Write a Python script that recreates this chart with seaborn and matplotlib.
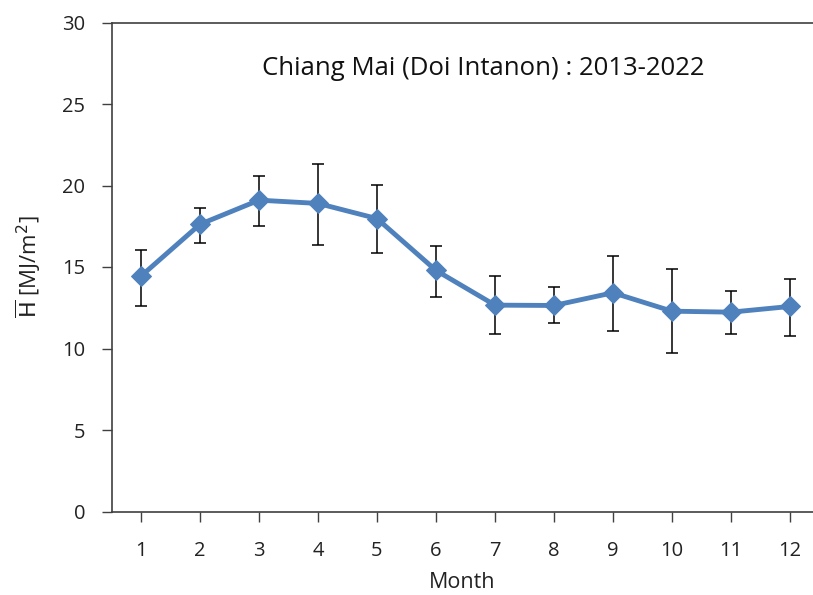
import matplotlib
matplotlib.use("Agg")
import matplotlib.pyplot as plt
import seaborn as sns
import pandas as pd
import numpy as np

months = [1, 2, 3, 4, 5, 6, 7, 8, 9, 10, 11, 12]
h_mean = [14.44, 17.62, 19.10, 18.90, 17.97, 14.79, 12.66, 12.64, 13.42, 12.29, 12.23, 12.58]
err_upper = [16.07, 18.60, 20.57, 21.30, 20.05, 16.30, 14.44, 13.75, 15.65, 14.87, 13.54, 14.28]
err_lower = [12.58, 16.45, 17.50, 16.37, 15.88, 13.15, 10.92, 11.54, 11.06, 9.71, 10.92, 10.76]
title = "Chiang Mai (Doi Intanon) : 2013-2022"

df = pd.DataFrame({"Month": months, "H": h_mean, "hi": err_upper, "lo": err_lower})

sns.set_theme(style="white")
plt.rcParams["font.family"] = ["Open Sans", "DejaVu Sans"]

fig = plt.figure(figsize=(8.13, 5.95), dpi=100)
ax = fig.add_axes([111.5 / 813, 1 - 511.5 / 595, 1 - 111.5 / 813, (511.5 - 22.5) / 595])

color = "#4F81BD"
yerr = np.array([df["H"] - df["lo"], df["hi"] - df["H"]])
ax.errorbar(df["Month"], df["H"], yerr=yerr, fmt="none", ecolor="black",
            elinewidth=1.1, capsize=4, capthick=1.1, zorder=2)
sns.lineplot(data=df, x="Month", y="H", ax=ax, color=color, linewidth=3.5,
             marker="D", markersize=10, markeredgecolor=color, zorder=3)

ax.set_xlim(0.5, 12.39)
ax.set_ylim(0, 30)
ax.set_xticks(months)
ax.set_yticks([0, 5, 10, 15, 20, 25, 30])
ax.tick_params(axis="both", direction="out", length=7, width=1, color="#404040",
               labelsize=14.5, labelcolor="#222222", bottom=True, left=True)
ax.tick_params(axis="x", pad=14)
ax.tick_params(axis="y", pad=12)
for s in ["left", "bottom", "top"]:
    ax.spines[s].set_visible(True)
    ax.spines[s].set_color("#404040")
    ax.spines[s].set_linewidth(1.2)
ax.spines["right"].set_visible(False)

ax.set_xlabel("Month", fontsize=15.5, color="#222222", labelpad=8)
ax.set_ylabel(r"$\overline{\mathrm{H}}$ [MJ/m$^2$]", fontsize=16, color="#222222", labelpad=14)
ax.text(0.53, 0.905, title, transform=ax.transAxes, ha="center", va="center",
        fontsize=18.5, color="#111111")

fig.savefig("out.png", dpi=100)
